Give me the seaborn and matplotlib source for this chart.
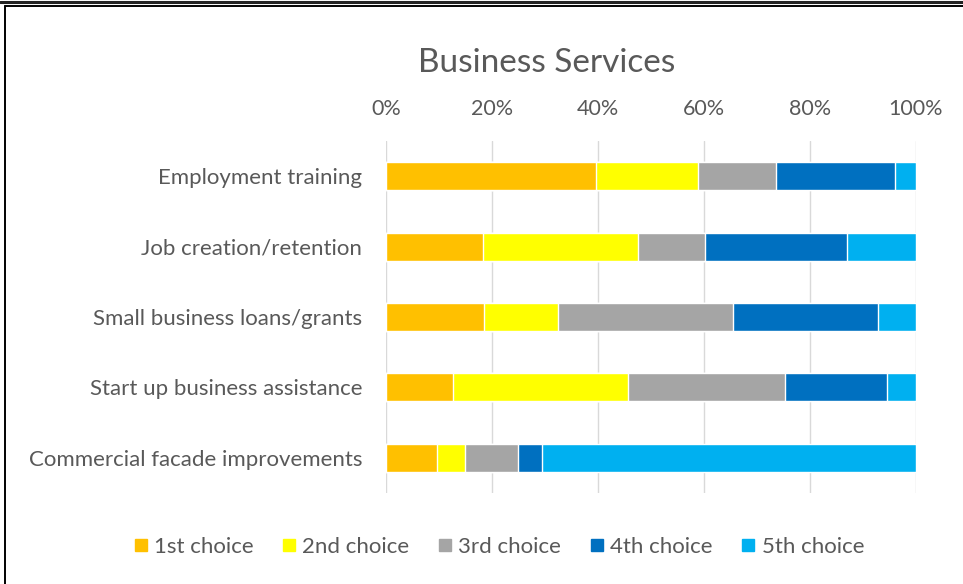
import numpy as np
import pandas as pd
import matplotlib
matplotlib.use("Agg")
import matplotlib.pyplot as plt
import seaborn as sns
from matplotlib.lines import Line2D

categories = ["Employment training", "Job creation/retention", "Small business loans/grants",
              "Start up business assistance", "Commercial facade improvements"]
series_names = ["1st choice", "2nd choice", "3rd choice", "4th choice", "5th choice"]
first = [39.7, 18.4, 18.5, 12.6, 9.6]
second = [19.1, 29.1, 13.9, 33.0, 5.4]
third = [14.7, 12.6, 33.0, 29.7, 9.9]
fourth = [22.6, 26.9, 27.5, 19.2, 4.6]
fifth = [3.9, 13.0, 7.1, 5.5, 70.5]
colors = ["#FFC000", "#FFFF00", "#A5A5A5", "#0070C0", "#00B0F0"]
tick_vals = [0, 20, 40, 60, 80, 100]
tick_labels = ["0%", "20%", "40%", "60%", "80%", "100%"]

sns.set_style("white")
plt.rcParams["font.family"] = ["Lato", "DejaVu Sans"]

df = pd.DataFrame({"cat": categories})
parts = [first, second, third, fourth, fifth]
cum = np.cumsum(np.array(parts), axis=0)
cum = cum / cum[-1] * 100  # make every row end at 100%

fig = plt.figure(figsize=(9.63, 5.84), dpi=100)
ax = fig.add_axes([0.4008, 0.1558, 0.5504, 0.6027])

# draw cumulative bars from the longest down so they stack
for i in range(4, -1, -1):
    df["val"] = cum[i]
    sns.barplot(data=df, x="val", y="cat", color=colors[i], width=0.4,
                saturation=1, orient="h", ax=ax, zorder=3)

ax.set_xlim(0, 100)
ax.set_xticks(tick_vals)
ax.set_xticklabels(tick_labels)
ax.xaxis.tick_top()
ax.set_xlabel("")
ax.set_ylabel("")
ax.tick_params(axis="x", colors="#595959", labelsize=15.5, length=0, pad=16)
ax.tick_params(axis="y", colors="#595959", labelsize=16, length=0, pad=17)
ax.grid(axis="x", color="#D9D9D9", linewidth=1, zorder=0)
for s in ax.spines.values():
    s.set_visible(False)

fig.text(0.568, 0.892, "Business Services", ha="center", va="center",
         fontsize=24, color="#595959")

handles = [Line2D([0], [0], marker="s", linestyle="", markersize=9,
                  markerfacecolor=c, markeredgecolor=c) for c in colors]
fig.legend(handles, series_names, loc="center", bbox_to_anchor=(0.517, 0.063),
           ncol=5, frameon=False, fontsize=16, labelcolor="#595959",
           handlelength=0.8, handletextpad=0.2, columnspacing=1.2)

# page border lines
fig.add_artist(Line2D([0, 1], [0.9966, 0.9966], transform=fig.transFigure,
                      color="#222222", linewidth=2.2))
fig.add_artist(Line2D([0.0057, 1], [0.990, 0.990], transform=fig.transFigure,
                      color="black", linewidth=1.4))
fig.add_artist(Line2D([0.0057, 0.0057], [0, 0.990], transform=fig.transFigure,
                      color="black", linewidth=1.4))

fig.savefig("out.png", dpi=100)
